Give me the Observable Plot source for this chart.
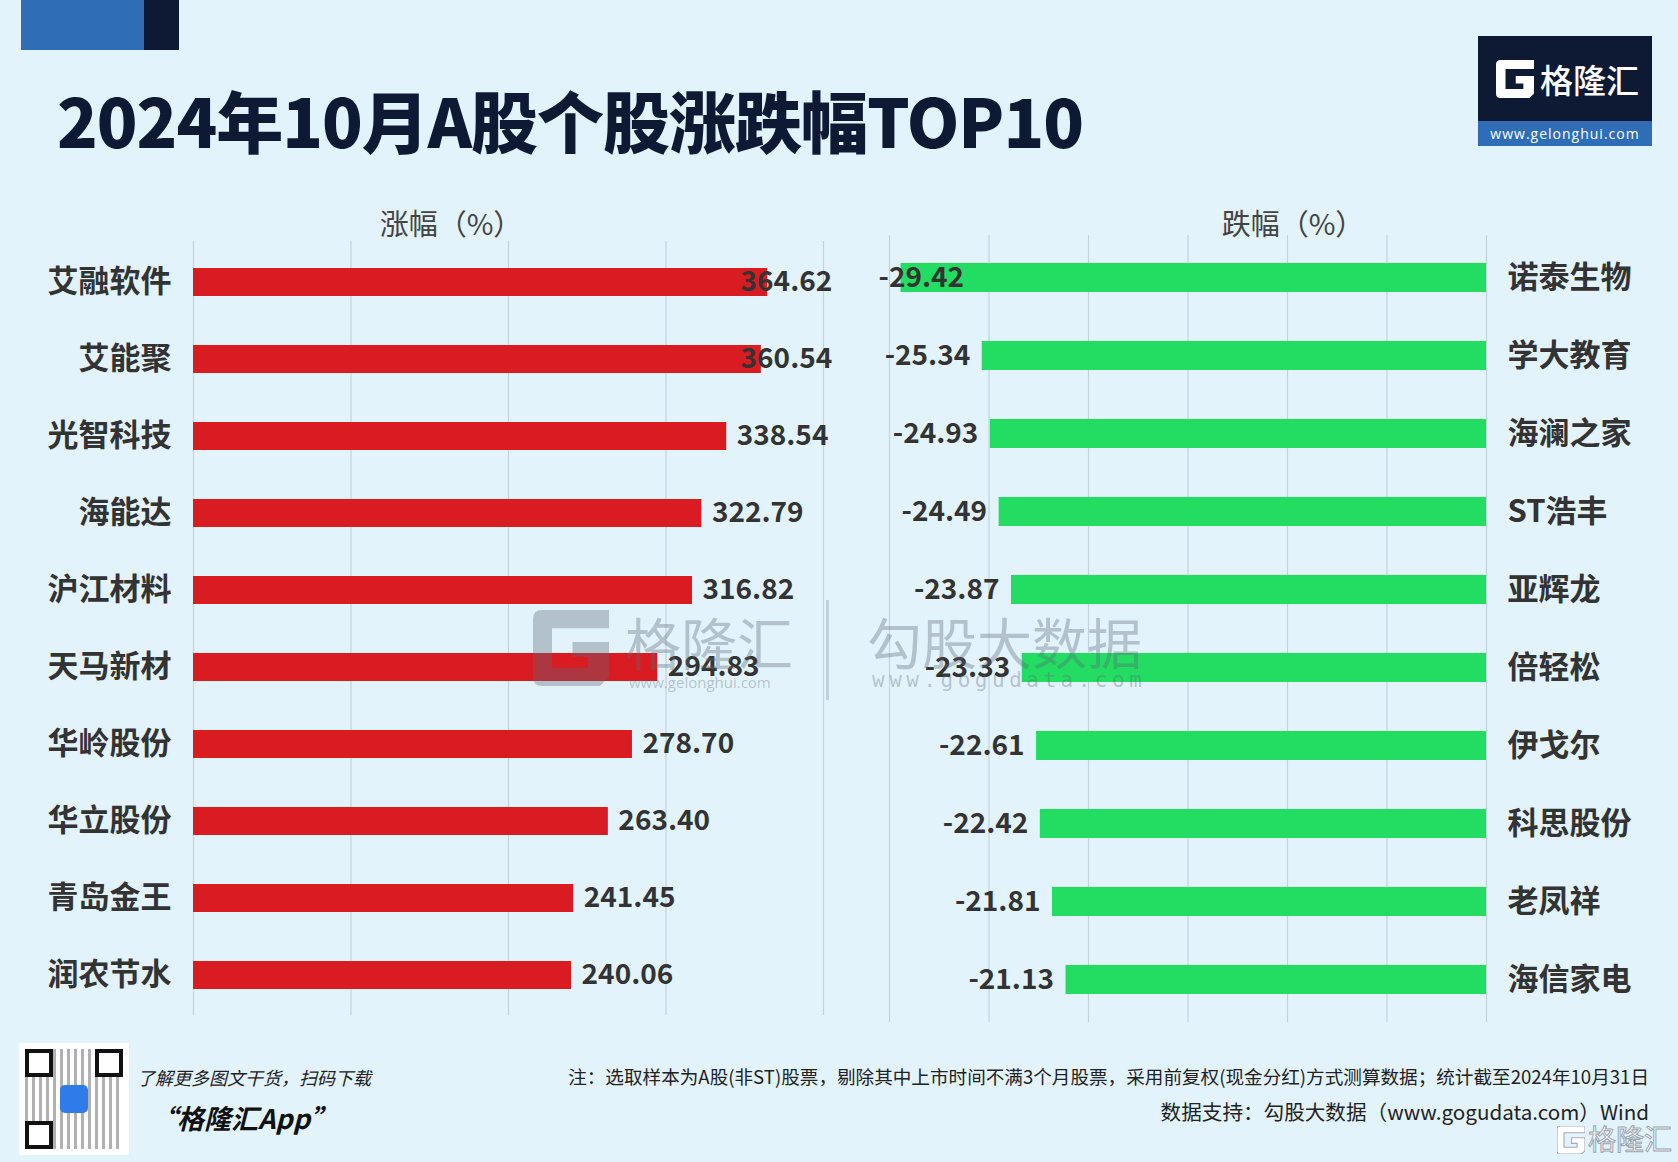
<!DOCTYPE html>
<html><head><meta charset="utf-8">
<script src="https://cdn.jsdelivr.net/npm/d3@7"></script>
<script src="https://cdn.jsdelivr.net/npm/@observablehq/plot@0.6"></script>
<style>
html,body{margin:0;padding:0;}
body{width:1678px;height:1162px;background:#e2f3fc;position:relative;overflow:hidden;font-family:"Noto Sans CJK SC","Noto Sans",sans-serif;}
.abs{position:absolute;}
#title{left:57px;top:70px;font-size:67px;font-weight:900;color:#0e1a33;white-space:nowrap;letter-spacing:-1px;}
.axlab{font-size:28px;color:#444;white-space:nowrap;transform:translateX(-50%);}
.wm{color:rgba(95,105,118,0.36);white-space:nowrap;}
</style></head>
<body>
<div class="abs" style="left:21px;top:0;width:123px;height:50px;background:#2f6db6"></div>
<div class="abs" style="left:144px;top:0;width:35px;height:50px;background:#0e1a33"></div>
<div id="title" class="abs">2024年10月A股个股涨跌幅TOP10</div>

<div class="abs" style="left:1478px;top:36px;width:174px;height:85px;background:#0e1a33"></div>
<div class="abs" style="left:1478px;top:121px;width:174px;height:25px;background:#2f6db6;color:#fff;font-size:14px;text-align:center;line-height:25px;font-family:'Open Sans',sans-serif;letter-spacing:1px">www.gelonghui.com</div>
<svg class="abs" style="left:1496px;top:60px" width="38" height="38" viewBox="0 0 100 100"><path d="M0,12 Q0,0 12,0 L100,0 L100,24 L25,24 L25,76 L72,76 L72,62 L52,62 L52,42 L100,42 L100,88 L88,100 L12,100 Q0,100 0,88 Z" fill="#fff"/></svg>
<div class="abs" style="left:1540px;top:55px;font-size:33px;color:#fff;font-weight:500;white-space:nowrap">格隆汇</div>

<div class="abs axlab" style="left:451px;top:201px;font-size:29px">涨幅（%）</div>
<div class="abs axlab" style="left:1293px;top:201px;font-size:29px">跌幅（%）</div>

<div id="left" class="abs" style="left:0;top:230px"></div>
<div id="right" class="abs" style="left:840px;top:225px"></div>

<!-- watermarks -->
<svg class="abs" style="left:532px;top:610px" width="78" height="76" viewBox="0 0 100 100"><path d="M0,12 Q0,0 12,0 L100,0 L100,24 L25,24 L25,76 L72,76 L72,62 L52,62 L52,42 L100,42 L100,88 L88,100 L12,100 Q0,100 0,88 Z" fill="rgba(95,105,118,0.36)"/></svg>
<div class="abs wm" style="left:625px;top:600px;font-size:56px">格隆汇</div>
<div class="abs wm" style="left:629px;top:672px;font-size:15px;font-family:'Open Sans',sans-serif">www.gelonghui.com</div>
<div class="abs" style="left:826px;top:600px;width:3px;height:100px;background:rgba(95,105,118,0.25)"></div>
<div class="abs wm" style="left:867px;top:600px;font-size:55px">勾股大数据</div>
<div class="abs wm" style="left:872px;top:668px;font-size:21px;letter-spacing:4.5px;font-family:'DejaVu Sans Mono',monospace">www.gogudata.com</div>

<!-- footer -->
<div class="abs" style="left:19px;top:1043px;width:110px;height:112px;background:#fff"></div>
<div class="abs" style="left:25px;top:1049px;width:98px;height:100px;background:repeating-linear-gradient(90deg,#222 0 3px,#fff 3px 7px),#fff;opacity:0.35"></div>
<div class="abs" style="left:25px;top:1049px;width:20px;height:20px;border:4px solid #111;background:#fff"></div>
<div class="abs" style="left:95px;top:1049px;width:20px;height:20px;border:4px solid #111;background:#fff"></div>
<div class="abs" style="left:25px;top:1121px;width:20px;height:20px;border:4px solid #111;background:#fff"></div>
<div class="abs" style="left:60px;top:1085px;width:28px;height:28px;background:#2f7be8;border-radius:5px"></div>
<div class="abs" style="left:137px;top:1064px;font-size:18px;font-style:italic;color:#222;white-space:nowrap">了解更多图文干货，扫码下载</div>
<div class="abs" style="left:150px;top:1098px;font-size:27px;font-style:italic;font-weight:bold;color:#111;white-space:nowrap">“格隆汇App”</div>
<div class="abs" style="right:29px;top:1062px;font-size:18.6px;color:#222;white-space:nowrap">注：选取样本为A股(非ST)股票，剔除其中上市时间不满3个月股票，采用前复权(现金分红)方式测算数据；统计截至2024年10月31日</div>
<div class="abs" style="right:29px;top:1096px;font-size:20.6px;color:#222;white-space:nowrap">数据支持：勾股大数据（www.gogudata.com）Wind</div>
<svg class="abs" style="left:1557px;top:1126px" width="28" height="28" viewBox="0 0 100 100"><path d="M0,12 Q0,0 12,0 L100,0 L100,24 L25,24 L25,76 L72,76 L72,62 L52,62 L52,42 L100,42 L100,88 L88,100 L12,100 Q0,100 0,88 Z" fill="#fff" stroke="#aab" stroke-width="4"/></svg>
<div class="abs" style="left:1588px;top:1118px;font-size:28px;color:#fff;-webkit-text-stroke:1px #9aa4ae;white-space:nowrap">格隆汇</div>

<script>
const gainNames = ["艾融软件","艾能聚","光智科技","海能达","沪江材料","天马新材","华岭股份","华立股份","青岛金王","润农节水"];
const gainValues = [364.62,360.54,338.54,322.79,316.82,294.83,278.70,263.40,241.45,240.06];
const lossNames = ["诺泰生物","学大教育","海澜之家","ST浩丰","亚辉龙","倍轻松","伊戈尔","科思股份","老凤祥","海信家电"];
const lossValues = [-29.42,-25.34,-24.93,-24.49,-23.87,-23.33,-22.61,-22.42,-21.81,-21.13];
const gainTicks = [0,100,200,300,400];
const lossTicks = [-30,-25,-20,-15,-10,-5,0];

const gains = gainNames.map((name,i)=>({name, value: gainValues[i]}));
const losses = lossNames.map((name,i)=>({name, value: lossValues[i]}));

const font = '"Noto Sans CJK SC","Noto Sans",sans-serif';
const textColor = "#333";

const left = Plot.plot({
  width: 850, height: 800,
  marginLeft: 193, marginRight: 27, marginTop: 11, marginBottom: 15,
  style: {background: "transparent", fontFamily: font, color: textColor, overflow: "visible"},
  x: {domain: [0, 400], axis: null},
  y: {domain: gainNames, paddingInner: 0.64, paddingOuter: 0.32},
  marks: [
    Plot.ruleX(gainTicks, {stroke: "#c4d2dc", strokeWidth: 1.2}),
    Plot.barX(gains, {x: "value", y: "name", fill: "#d81c22"}),
    Plot.text(gains, {x: d => Math.min(d.value, 341), y: "name", text: d => d.value.toFixed(2), dx: 10, textAnchor: "start", fontSize: 28, fontWeight: "bold", fill: textColor}),
    Plot.axisY({anchor: "left", tickSize: 0, tickPadding: 22, fontSize: 31, fontWeight: "bold", label: null, fill: textColor})
  ]
});
document.getElementById("left").appendChild(left);

const right = Plot.plot({
  width: 838, height: 810,
  marginLeft: 49, marginRight: 192, marginTop: 10, marginBottom: 13,
  style: {background: "transparent", fontFamily: font, color: textColor, overflow: "visible"},
  x: {domain: [-30, 0], axis: null},
  y: {domain: lossNames, paddingInner: 0.63, paddingOuter: 0.315},
  marks: [
    Plot.ruleX(lossTicks, {stroke: "#c4d2dc", strokeWidth: 1.2}),
    Plot.barX(losses, {x: "value", y: "name", fill: "#22dd62"}),
    Plot.text(losses, {x: d => Math.max(d.value, -25.65), y: "name", text: d => d.value.toFixed(2), dx: -12, textAnchor: "end", fontSize: 28, fontWeight: "bold", fill: textColor}),
    Plot.axisY({anchor: "right", tickSize: 0, tickPadding: 21, fontSize: 31, fontWeight: "bold", label: null, fill: textColor})
  ]
});
document.getElementById("right").appendChild(right);
</script>
</body></html>
